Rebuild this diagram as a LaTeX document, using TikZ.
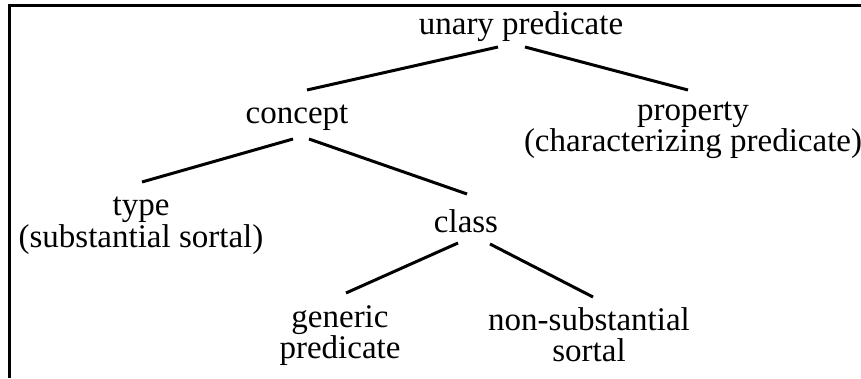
\documentclass[tikz,border=0pt]{standalone}
\usepackage{fontspec}
\setmainfont{Liberation Serif}
\begin{document}
\begin{tikzpicture}[x=1pt,y=1pt,
  lbl/.style={anchor=base,inner sep=0pt,outer sep=0pt,align=center,
    font=\fontsize{33}{28}\selectfont},
  lbltall/.style={lbl,font=\fontsize{33}{31}\selectfont},
  edge/.style={line width=3pt}]
\useasboundingbox (0,0) rectangle (861,378);
\coordinate (fbot) at (9.7,0);
\coordinate (fcorner) at (9.7,372.3);
\coordinate (fright) at (861,372.3);
\draw[line width=2.6pt] (fbot) -- (fcorner) -- (fright);
\node[lbl] (unary) at (521,343) {unary predicate};
\node[lbl] (concept) at (297,254) {concept};
\node[lbl] (property) at (693,226) {property\\(characterizing predicate)};
\node[lbl] (type) at (141,131) {type\\(substantial sortal)};
\node[lbl] (class) at (466,146) {class};
\node[lbltall] (generic) at (340,20) {generic\\predicate};
\node[lbltall] (nonsub) at (589,17) {non-substantial\\sortal};
\draw[edge] ([shift={(-23,-12)}]unary.base) -- ([shift={(10,34)}]concept.base);
\draw[edge] ([shift={(4,-12)}]unary.base) -- ([shift={(-5,62)}]property.base);
\draw[edge] ([shift={(-4,-15)}]concept.base) -- ([shift={(1,65)}]type.base);
\draw[edge] ([shift={(12,-15)}]concept.base) -- ([shift={(1,38)}]class.base);
\draw[edge] ([shift={(-8,-11)}]class.base) -- ([shift={(6,65)}]generic.base);
\draw[edge] ([shift={(24,-12)}]class.base) -- ([shift={(4,64)}]nonsub.base);
\end{tikzpicture}
\end{document}
